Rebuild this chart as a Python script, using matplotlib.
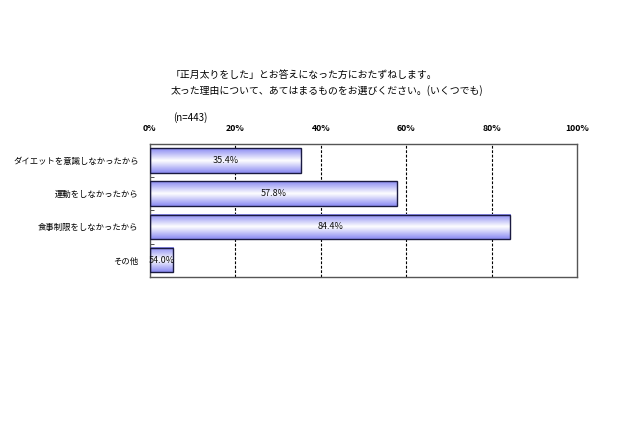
import numpy as np
import matplotlib
matplotlib.use("Agg")
import matplotlib.pyplot as plt
from matplotlib.colors import LinearSegmentedColormap

plt.rcParams['font.family'] = ['Noto Sans CJK JP', 'DejaVu Sans']

categories = ["ダイエットを意識しなかったから", "運動をしなかったから", "食事制限をしなかったから", "その他"]
values = [35.4, 57.8, 84.4, 5.4]
value_labels = ["35.4%", "57.8%", "84.4%", "54.0%"]
xticks = [0, 20, 40, 60, 80, 100]
xtick_labels = ["0%", "20%", "40%", "60%", "80%", "100%"]
title_lines = ["「正月太りをした」とお答えになった方におたずねします。",
               "太った理由について、あてはまるものをお選びください。(いくつでも)"]
n_label = "(n=443)"

fig = plt.figure(figsize=(6.4, 4.26), dpi=100)
ax = fig.add_axes([0.234, 0.3505, 0.6677, 0.3115])

cmap = LinearSegmentedColormap.from_list("g", ["#8a8af2", "#ffffff", "#8a8af2"])
grad = np.linspace(0, 1, 64).reshape(-1, 1)
bar_h = 0.74
ypos = np.arange(len(categories))
bars = ax.barh(ypos, values, height=bar_h, color="none", edgecolor="#1a1a40", linewidth=1.0, zorder=3)
for b in bars:
    x0, y0 = b.get_x(), b.get_y()
    w, h = b.get_width(), b.get_height()
    ax.imshow(grad, cmap=cmap, aspect="auto", extent=[x0, x0 + w, y0 + h, y0],
              zorder=2, interpolation="bicubic")
for y, v, lab in zip(ypos, values, value_labels):
    ax.text(v / 2, y, lab, ha="center", va="center", fontsize=6.5, color="#111111", zorder=4)

ax.set_xlim(0, 100)
ax.set_ylim(len(categories) - 0.5, -0.5)
ax.set_xticks(xticks)
ax.set_xticklabels(xtick_labels, fontsize=6.3, fontweight="bold")
ax.xaxis.tick_top()
ax.tick_params(axis="x", length=0, pad=8)
ax.set_yticks(ypos)
ax.set_yticklabels(categories, fontsize=6.0)
ax.tick_params(axis="y", length=0, pad=8)
ax.set_yticks(np.arange(len(categories) - 1) + 0.5, minor=True)
ax.tick_params(axis="y", which="minor", length=3, direction="in", color="#333333")
for x in xticks[1:-1]:
    ax.axvline(x, color="black", linestyle=(0, (2.5, 1.5)), linewidth=0.8, zorder=1)
for s in ax.spines.values():
    s.set_color("#555555")
    s.set_linewidth(1.0)

fig.text(171 / 640, 1 - 75 / 426, title_lines[0], fontsize=7.1, va="center", ha="left")
fig.text(171 / 640, 1 - 91 / 426, title_lines[1], fontsize=7.1, va="center", ha="left")
fig.text(173 / 640, 1 - 118 / 426, n_label, fontsize=7.0, va="center", ha="left")

fig.savefig("out.png", dpi=100, facecolor="white")
